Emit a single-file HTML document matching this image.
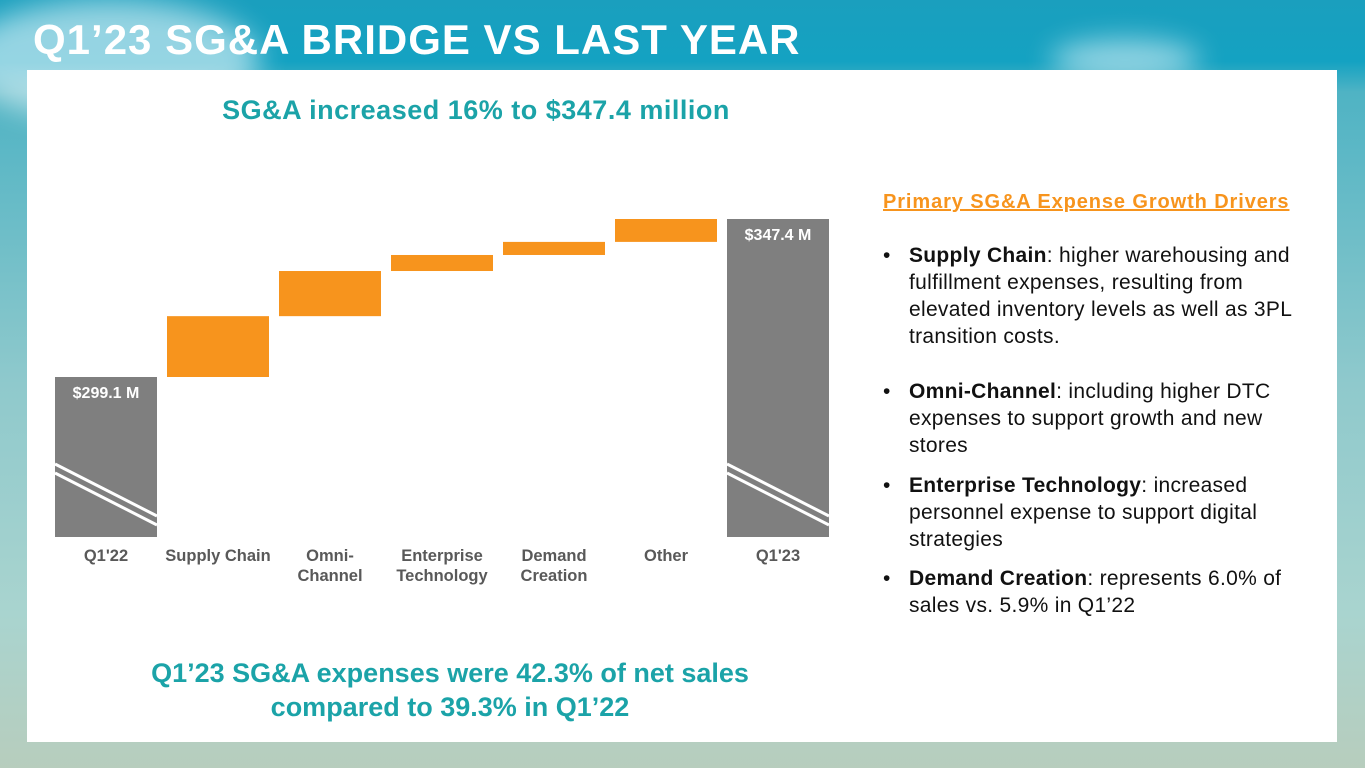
<!DOCTYPE html>
<html><head><meta charset="utf-8"><style>
*{margin:0;padding:0;box-sizing:border-box}
body{width:1365px;height:768px;position:relative;overflow:hidden;font-family:"Liberation Sans",sans-serif;
background:linear-gradient(180deg,#1a9fbe 0%,#14a2c2 8%,#4fb3c4 12%,#8fc9cc 50%,#a9d4cf 80%,#b7cdbd 100%)}
.cloud{position:absolute;border-radius:50%;background:rgba(255,255,255,.55);filter:blur(14px)}
#title{position:absolute;left:33px;top:16px;color:#fff;font-weight:bold;font-size:42px;letter-spacing:1px}
#panel{position:absolute;left:27px;top:70px;width:1310px;height:672px;background:#fff}
.h{position:absolute;color:#1ba3a8;font-weight:bold;text-align:center}
#drivers{position:absolute;left:883px;top:191px;color:#f7941d;font-weight:bold;font-size:20px;letter-spacing:0.9px;text-decoration:underline}
.bl{position:absolute;left:883px;font-size:21px;letter-spacing:0.3px;line-height:27px;color:#111;white-space:nowrap}
.bl .dot{position:absolute;left:0;top:0}
.bl .t{margin-left:26px;display:block}
</style></head><body>
<div class="cloud" style="left:-40px;top:0;width:300px;height:120px"></div>
<div class="cloud" style="left:1050px;top:40px;width:150px;height:40px"></div>
<div id="title">Q1’23 SG&amp;A BRIDGE VS LAST YEAR</div>
<div id="panel"></div>
<div class="h" style="left:126px;top:95px;width:700px;font-size:27px;letter-spacing:0.5px">SG&amp;A increased 16% to $347.4 million</div>
<svg style="position:absolute;left:0;top:0" width="1365" height="768" id="chart"></svg>
<div class="h" style="left:80px;top:656px;width:740px;font-size:27px;letter-spacing:0px;line-height:34px">Q1’23 SG&amp;A expenses were 42.3% of net sales<br>compared to 39.3% in Q1’22</div>
<div id="drivers">Primary SG&amp;A Expense Growth Drivers</div>
<div class="bl" style="top:242px"><span class="dot">•</span><span class="t"><b>Supply Chain</b>: higher warehousing and<br>fulfillment expenses, resulting from<br>elevated inventory levels as well as 3PL<br>transition costs.</span></div>
<div class="bl" style="top:378px"><span class="dot">•</span><span class="t"><b>Omni-Channel</b>: including higher DTC<br>expenses to support growth and new<br>stores</span></div>
<div class="bl" style="top:472px"><span class="dot">•</span><span class="t"><b>Enterprise Technology</b>: increased<br>personnel expense to support digital<br>strategies</span></div>
<div class="bl" style="top:565px"><span class="dot">•</span><span class="t"><b>Demand Creation</b>: represents 6.0% of<br>sales vs. 5.9% in Q1’22</span></div>
<script>
const categories=[["Q1'22"],["Supply Chain"],["Omni-","Channel"],["Enterprise","Technology"],["Demand","Creation"],["Other"],["Q1'23"]];
const startValue=299.1;
const deltas=[18.6,13.8,4.9,4.0,7.0];
const endValue=347.4;
const totalLabels=["$299.1 M","$347.4 M"];
const NS="http://www.w3.org/2000/svg";
const svg=document.getElementById('chart');
const base=537,k=158/(347.4-299.1);
function y(v){return 377-(v-299.1)*k;}
function x(i){return 55+i*112;}
const bw=102;
function mk(t,a){const e=document.createElementNS(NS,t);for(const n in a)e.setAttribute(n,a[n]);svg.appendChild(e);return e;}
function total(i,v,lbl){
 const r=mk('rect',{x:x(i),y:y(v),width:bw,height:base-y(v),fill:'#7f7f7f'});
 
 
 for(const d of [0,9]){const l=mk('line',{x1:x(i),y1:464+d,x2:x(i)+bw,y2:516+d,stroke:'#fff','stroke-width':3});
 
 }
 const t=mk('text',{x:x(i)+bw/2,y:y(v)+21,'text-anchor':'middle',fill:'#fff','font-size':16,'font-weight':'bold'});
 t.textContent=lbl;
 
 
}
total(0,startValue,totalLabels[0]);
let cum=startValue;
deltas.forEach((d,j)=>{const i=j+1;const r=mk('rect',{x:x(i),y:y(cum+d),width:bw,height:y(cum)-y(cum+d),fill:'#f7941d'});
 
 
 cum+=d;});
total(6,endValue,totalLabels[1]);
categories.forEach((c,i)=>{c.forEach((s,li)=>{const t=mk('text',{x:x(i)+bw/2,y:561+li*20,'text-anchor':'middle',fill:'#595959','font-size':16.5,'font-weight':'bold'});
 t.textContent=s;
 
 });});
</script>
</body></html>
